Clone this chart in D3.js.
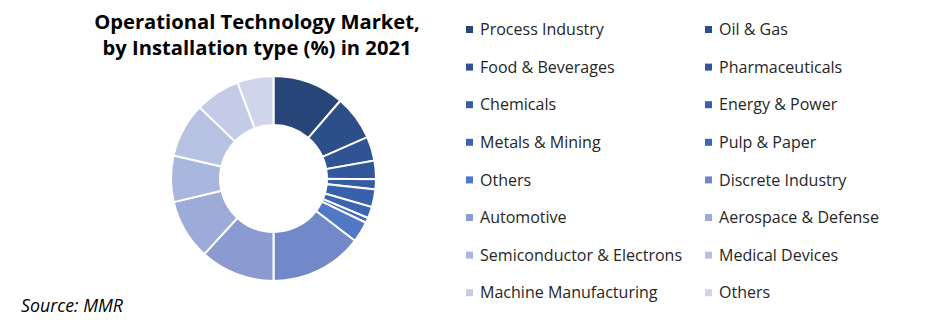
<!DOCTYPE html>
<html>
<head>
<meta charset="utf-8">
<script src="https://cdn.jsdelivr.net/npm/d3@7"></script>
<style>
  html, body { margin: 0; padding: 0; background: #fff; }
  svg { display: block; }
</style>
</head>
<body>
<svg id="chart"></svg>
<script>
// Data (% share)
const categories = [
    "Process Industry", "Oil & Gas", "Food & Beverages", "Pharmaceuticals",
    "Chemicals", "Energy & Power", "Metals & Mining", "Pulp & Paper",
    "Others", "Discrete Industry", "Automotive", "Aerospace & Defense",
    "Semiconductor & Electrons", "Medical Devices", "Machine Manufacturing", "Others"
];
const shares = [11.3, 7.1, 3.8, 2.9, 1.6, 2.8, 1.8, 0.8, 3.3, 14.6, 11.8, 9.5, 7.3, 8.6, 7.1, 5.7];
const titleLines = ["Operational Technology Market,", "by Installation type (%) in 2021"];
const sourceText = "Source: MMR";

const sliceColors = [
    "#284579", "#2c4e89", "#2f5393", "#31579b", "#355ca4", "#3860ab", "#3b64b2", "#3e68b9",
    "#5078c4", "#7189c9", "#8b9bd2", "#9cabd8", "#a9b6dd", "#b7c2e2", "#c3cbe6", "#cfd5ea"
];

function drawChart() {
    var svgWidth = 941;
    var svgHeight = 324;
    var font = "'Open Sans', 'Noto Sans', sans-serif";

    const svg = d3.select('#chart')
        .attr('width', svgWidth)
        .attr('height', svgHeight);

    var data = categories.map((c, i) => ({ name: c, value: shares[i], idx: i }));

    // fit a text element to a measured width from the reference
    function fitWidth(sel, target) {
        var w = sel.node().getComputedTextLength();
        var fs = parseFloat(sel.attr('font-size'));
        sel.attr('font-size', (fs * target / w).toFixed(2));
    }

    // Title
    var title1 = svg.append('text')
        .attr('x', 257).attr('y', 29)
        .attr('text-anchor', 'middle')
        .attr('font-family', font).attr('font-weight', 'bold')
        .attr('font-size', 20).attr('fill', '#000')
        .text(titleLines[0]);
    fitWidth(title1, 326);
    svg.append('text')
        .attr('x', 257).attr('y', 55)
        .attr('text-anchor', 'middle')
        .attr('font-family', font).attr('font-weight', 'bold')
        .attr('font-size', title1.attr('font-size')).attr('fill', '#000')
        .text(titleLines[1]);

    // Donut
    var cx = 273.5, cy = 178.5;
    var outerR = 102.5, innerR = 53.5;

    var pie = d3.pie()
        .sort(null)
        .value(d => d.value)
        .startAngle(0)
        .endAngle(2 * Math.PI);

    var arc = d3.arc()
        .innerRadius(innerR)
        .outerRadius(outerR);

    var donutG = svg.append('g')
        .attr('transform', 'translate(' + [cx, cy] + ')');

    donutG.selectAll('.slice')
        .data(pie(data))
        .enter()
        .append('path')
        .attr('class', 'slice')
        .attr('d', arc)
        .attr('fill', d => sliceColors[d.data.idx])
        .attr('stroke', '#fff')
        .attr('stroke-width', 2)
        .attr('stroke-linejoin', 'miter');

    // Legend, two columns, row-major
    var colX = [466, 705];
    var rowY0 = 29.5, rowStep = 37.6;
    var legendG = svg.append('g');

    var items = legendG.selectAll('.legend-item')
        .data(data)
        .enter()
        .append('g')
        .attr('class', 'legend-item')
        .attr('transform', d => 'translate(' + [colX[d.idx % 2], rowY0 + Math.floor(d.idx / 2) * rowStep] + ')');

    items.append('rect')
        .attr('x', 0).attr('y', -3.5)
        .attr('width', 7).attr('height', 7)
        .attr('fill', d => sliceColors[d.idx]);

    var labels = items.append('text')
        .attr('x', 14).attr('y', 0)
        .attr('dy', '0.35em')
        .attr('font-family', font)
        .attr('font-size', 16)
        .attr('fill', '#262626')
        .text(d => d.name);

    // size legend font from "Process Industry" (124px wide in reference)
    var sample = d3.select(labels.nodes()[0]);
    fitWidth(sample, 124);
    labels.attr('font-size', sample.attr('font-size'));

    // Source note
    var src = svg.append('text')
        .attr('x', 21).attr('y', 312)
        .attr('font-family', font)
        .attr('font-style', 'italic')
        .attr('font-size', 15)
        .attr('fill', '#000')
        .text(sourceText);
    fitWidth(src, 102);
}

drawChart();
</script>
</body>
</html>
